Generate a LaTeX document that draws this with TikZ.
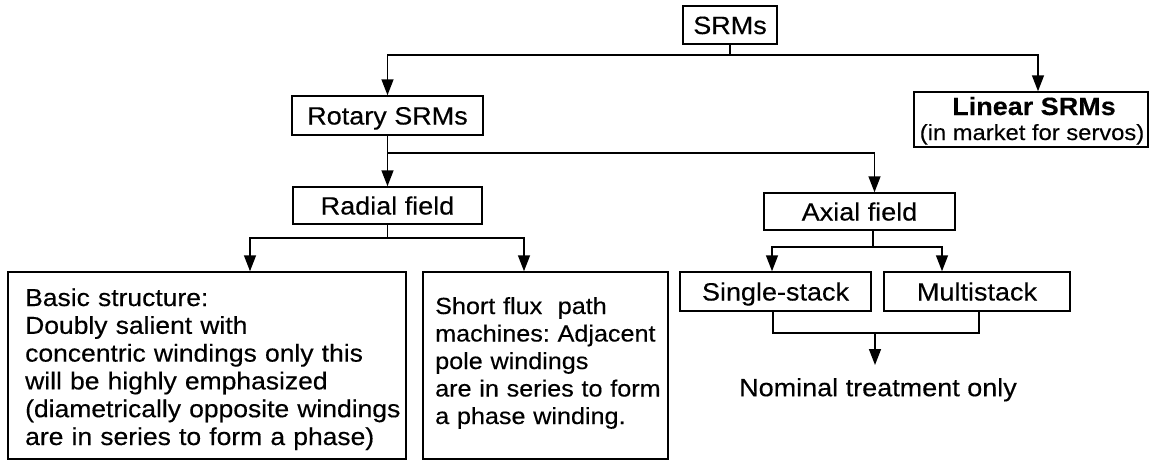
\documentclass[tikz,border=0pt]{standalone}
\usepackage{fontspec}
\setmainfont{Liberation Sans}[FakeStretch=1.08,FakeBold=0.35]
\usetikzlibrary{arrows.meta,calc}
\frenchspacing
\begin{document}
\begin{tikzpicture}[x=1pt,y=-1pt,
  box/.style={draw=black, line width=1.5pt, inner sep=0pt,
    font=\fontsize{25}{27.8}\selectfont, text height=18pt, text depth=0pt},
  plain/.style={inner sep=0pt},
  conn/.style={line width=1.5pt, draw=black},
  arr/.style={conn, -{Triangle[length=16pt,width=12pt]}}]
\useasboundingbox (0,0) rectangle (1151,461);
% boxes
\node[box, minimum width=94pt, minimum height=38pt] (srms) at (730,25) {SRMs};
\node[box, minimum width=191pt, minimum height=39pt] (rotary) at (387.5,115.5) {Rotary SRMs};
\node[box, minimum width=234pt, minimum height=55pt] (linear) at (1031,119.5) {};
\node[plain, anchor=base, font=\fontsize{25}{27}\selectfont\bfseries] (linA) at (1034,115) {Linear SRMs};
\node[plain, anchor=base, font=\fontsize{22}{25}\selectfont] (linB) at (1032,140) {(in market for servos)};
\node[box, minimum width=189pt, minimum height=37pt] (radial) at (387.5,205.5) {Radial field};
\node[box, minimum width=191pt, minimum height=37pt] (axial) at (859.5,211.5) {Axial field};
\node[box, minimum width=398pt, minimum height=187pt] (basic) at (207,365.5) {};
\node[plain, anchor=base west, text width=390pt, align=left,
  font=\fontsize{24.5}{27.8}\selectfont] (basictext) at (25,306)
  {Basic structure:\\ Doubly salient with\\ concentric windings only this\\
   will be highly emphasized\\ (diametrically opposite windings\\ are in series to form a phase)};
\node[box, minimum width=245pt, minimum height=187pt] (short) at (545.5,365.5) {};
\node[plain, anchor=base west, text width=240pt, align=left,
  font=\fontsize{23.3}{27.5}\selectfont] (shorttext) at (435,314)
  {Short flux\ \ path\\ machines: Adjacent\\ pole windings\\ are in series to form\\ a phase winding.};
\node[box, minimum width=191pt, minimum height=39pt] (single) at (775.5,291.5) {Single-stack};
\node[box, minimum width=186pt, minimum height=39pt] (multi) at (977,291.5) {Multistack};
\node[inner xsep=0pt, inner ysep=13pt, font=\fontsize{25}{27.8}\selectfont,
  text height=18pt, text depth=0pt, anchor=north] (nominal) at (878,365) {Nominal treatment only};
% junctions
\coordinate (j1) at (730,55);
\coordinate (j2) at (387.5,153);
\coordinate (j3) at (387.5,238);
\coordinate (j4) at (873,247);
\coordinate (j5) at (875,332);
% connectors
\draw[conn] (srms) -- (j1);
\draw[arr] (j1) -| (rotary);
\draw[arr] (j1) -| ([xshift=7pt]linear.north);
\draw[arr] (rotary) -- (radial);
\draw[arr] (j2) -| ([xshift=15pt]axial.north);
\draw[conn] (radial) -- (j3);
\draw[arr] (j3) -| ([xshift=43pt]basic.north);
\draw[arr] (j3) -| ([xshift=-21.5pt]short.north);
\draw[conn] ([xshift=13.5pt]axial.south) -- (j4);
\draw[arr] (j4) -| ([xshift=-3.5pt]single.north);
\draw[arr] (j4) -| ([xshift=-35pt]multi.north);
\draw[conn] ([xshift=-2.5pt]single.south) -- ++(0,21) -| ([xshift=2pt]multi.south);
\draw[arr] (j5) -- (j5 |- nominal.north);
\end{tikzpicture}
\end{document}
